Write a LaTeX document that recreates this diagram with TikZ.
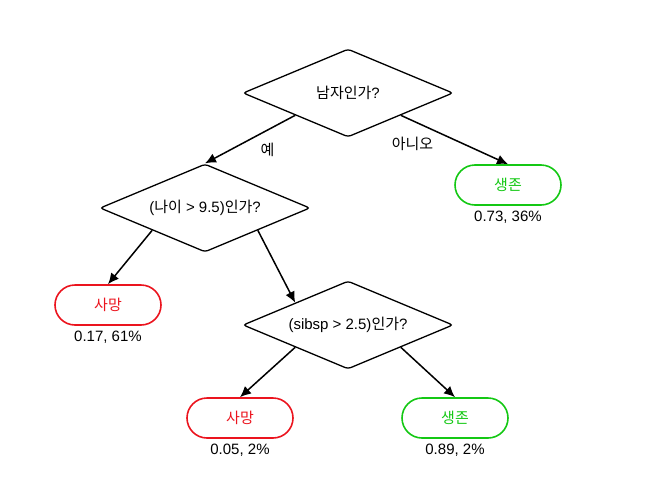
\documentclass[tikz,border=0pt]{standalone}
\usepackage{fontspec}
\setmainfont{Liberation Sans}
\newfontfamily\kr{Noto Sans CJK KR}
\usetikzlibrary{shapes.geometric,arrows.meta}
\definecolor{dieRed}{RGB}{235,20,30}
\definecolor{liveGreen}{RGB}{20,200,20}
\tikzset{
  question/.style={draw, shape=diamond, aspect=2.4, minimum width=210pt, minimum height=88pt,
    inner sep=0pt, line width=1.3pt, rounded corners=3pt, font=\fontsize{15}{17}\selectfont},
  leaf/.style={draw, line width=1.6pt, rounded corners=20pt, minimum width=106pt,
    minimum height=40pt, font=\kr\fontsize{15}{17}\selectfont},
  dead/.style={leaf, draw=dieRed, text=dieRed},
  alive/.style={leaf, draw=liveGreen, text=liveGreen},
  info/.style={font=\fontsize{15}{17}\selectfont},
  branch/.style={-{Latex[length=11pt,width=10pt]}, line width=1.5pt}
}
\begin{document}
\begin{tikzpicture}[x=1pt,y=-1pt]
\useasboundingbox (0,0) rectangle (664,490);
% the questions
\node[question] (male) at (348,93) {{\kr 남자인가}?};
\node[question] (age) at (205,208) {(\kr 나이\rm{} > 9.5){\kr 인가}?};
\node[question] (sibsp) at (348,325) {(sibsp > 2.5){\kr 인가}?};
% the leaves
\node[alive] (live1) at (508,185) {생존};
\node[dead] (die1) at (108,305) {사망};
\node[dead] (die2) at (240,418) {사망};
\node[alive] (live2) at (455,418) {생존};
\node[info, below=2pt] (p1) at (live1.south) {0.73, 36\%};
\node[info, below=2pt] (p2) at (die1.south) {0.17, 61\%};
\node[info, below=2pt] (p3) at (die2.south) {0.05, 2\%};
\node[info, below=2pt] (p4) at (live2.south) {0.89, 2\%};
% the branches
\draw[branch] (male.south west) -- (age.north) node[pos=0.45, below right=2pt, font=\kr\fontsize{15}{17}\selectfont] {예};
\draw[branch] (male.south east) -- (live1.north) node[pos=0.35, below left=1pt, font=\kr\fontsize{15}{17}\selectfont] {아니오};
\draw[branch] (age.south west) -- (die1.north);
\draw[branch] (age.south east) -- (sibsp.north west);
\draw[branch] (sibsp.south west) -- (die2.north);
\draw[branch] (sibsp.south east) -- (live2.north);
\end{tikzpicture}
\end{document}
